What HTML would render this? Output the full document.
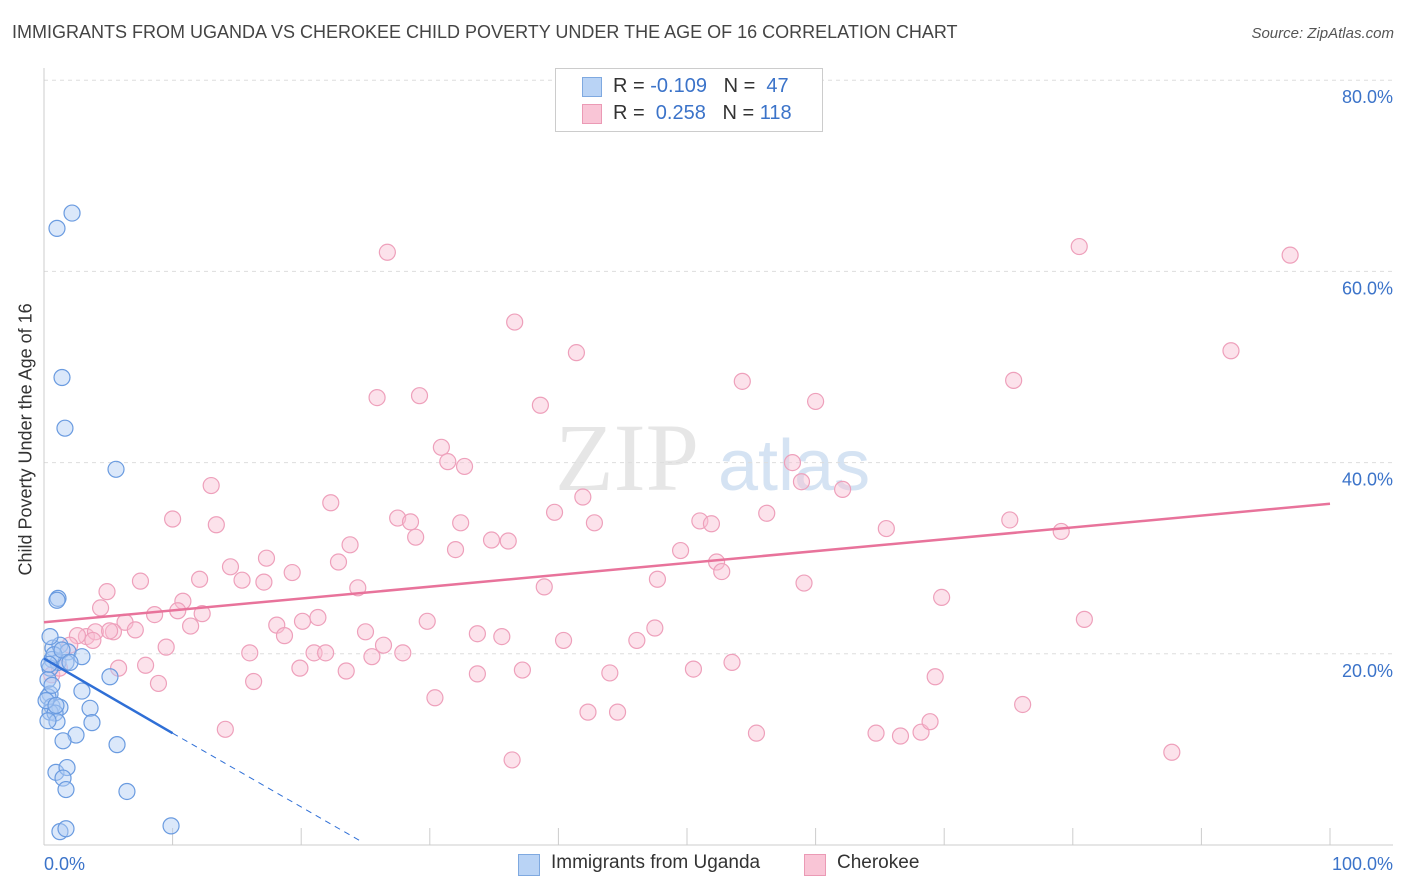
<!DOCTYPE html>
<html><head><meta charset="utf-8">
<style>
body{margin:0;background:#fff;font-family:"Liberation Sans",sans-serif;}
#wrap{position:relative;width:1406px;height:892px;overflow:hidden;}
.t{position:absolute;white-space:nowrap;}
</style></head>
<body>
<div id="wrap">
<div class="t" style="left:12px;top:22px;font-size:18px;color:#444;">IMMIGRANTS FROM UGANDA VS CHEROKEE CHILD POVERTY UNDER THE AGE OF 16 CORRELATION CHART</div>
<div class="t" style="right:12px;top:25px;font-size:15px;color:#555;font-style:italic;">Source: ZipAtlas.com</div>
<div class="t" style="left:-94px;top:445px;font-size:18px;color:#333;transform:rotate(-90deg);width:240px;text-align:center;">Child Poverty Under the Age of 16</div>
<svg id="svg" width="1406" height="892" style="position:absolute;left:0;top:0;"></svg>
<div style="position:absolute;left:555px;top:68px;width:266px;height:62px;border:1px solid #ccc;background:#fff;font-size:20px;">
 <div style="position:absolute;left:26px;top:8px;width:18px;height:18px;background:#b9d3f5;border:1px solid #7fa9e0;"></div>
 <div class="t" style="left:57px;top:6px;color:#333;">R = <span style="color:#3b73c9">-0.109</span>&nbsp;&nbsp;&nbsp;N = <span style="color:#3b73c9">&nbsp;47</span></div>
 <div style="position:absolute;left:26px;top:35px;width:18px;height:18px;background:#f9c5d6;border:1px solid #eb9ab5;"></div>
 <div class="t" style="left:57px;top:33px;color:#333;">R = <span style="color:#3b73c9">&nbsp;0.258</span>&nbsp;&nbsp;&nbsp;N = <span style="color:#3b73c9">118</span></div>
</div>
<div style="position:absolute;left:518px;top:852px;font-size:19px;color:#333;">
 <div style="position:absolute;left:0;top:2px;width:20px;height:20px;background:#b9d3f5;border:1px solid #7fa9e0;"></div>
 <div class="t" style="left:33px;top:0;">Immigrants from Uganda</div>
 <div style="position:absolute;left:286px;top:2px;width:20px;height:20px;background:#f9c5d6;border:1px solid #eb9ab5;"></div>
 <div class="t" style="left:319px;top:0;">Cherokee</div>
</div>
</div>
<script>
const yTicks=[20,40,60,80];
const yTickLabels=["20.0%","40.0%","60.0%","80.0%"];
const xTickVals=[0,10,20,30,40,50,60,70,80,90,100];
const blueX=[2.18,1.01,1.40,1.63,5.60,1.09,1.01,0.70,1.24,1.87,2.95,0.62,1.09,1.71,0.47,0.31,0.47,0.31,0.62,1.24,0.47,0.86,2.95,5.13,3.58,3.73,1.01,2.49,1.48,5.68,0.93,1.79,1.48,1.71,6.45,1.24,1.71,9.88,0.47,0.16,0.31,0.78,0.62,1.40,2.02,0.39,0.93];
const blueY=[66.1,64.5,48.9,43.6,39.3,25.8,25.6,20.6,20.9,20.2,19.7,19.4,19.1,19.1,18.5,17.3,15.8,15.5,14.5,14.4,13.9,13.8,16.1,17.6,14.3,12.8,12.9,11.5,10.9,10.5,7.6,8.1,7.0,5.8,5.6,1.4,1.7,2.0,21.8,15.1,13.0,19.9,16.7,20.4,19.1,18.9,14.6];
const pinkX=[26.7,80.5,96.9,36.6,41.4,92.3,54.3,75.4,25.9,29.2,38.6,60.0,30.9,31.4,32.7,58.2,58.9,62.1,13.0,41.9,22.3,10.0,13.4,27.5,28.5,32.4,39.7,42.8,51.0,51.9,56.2,75.1,65.5,79.1,23.8,28.9,32.0,34.8,36.1,49.5,52.3,17.3,22.9,14.5,19.3,52.7,7.5,12.1,15.4,17.1,24.4,38.9,47.7,59.1,4.9,10.8,69.8,4.4,8.6,10.4,12.3,6.3,21.3,20.1,29.8,80.9,3.3,2.6,4.0,5.4,7.1,11.4,18.1,18.7,25.0,33.7,35.6,40.4,46.1,47.5,9.5,16.0,21.0,21.9,27.9,26.4,25.5,7.9,19.9,5.8,23.5,37.2,33.7,44.0,50.5,53.5,8.9,16.3,69.3,30.4,76.1,42.3,44.6,14.1,55.4,64.7,66.6,68.2,68.9,36.4,87.7,0.6,1.2,2.0,3.8,5.1];
const pinkY=[62.0,62.6,61.7,54.7,51.5,51.7,48.5,48.6,46.8,47.0,46.0,46.4,41.6,40.1,39.6,40.0,38.0,37.2,37.6,36.4,35.8,34.1,33.5,34.2,33.8,33.7,34.8,33.7,33.9,33.6,34.7,34.0,33.1,32.8,31.4,32.2,30.9,31.9,31.8,30.8,29.6,30.0,29.6,29.1,28.5,28.6,27.6,27.8,27.7,27.5,26.9,27.0,27.8,27.4,26.5,25.5,25.9,24.8,24.1,24.5,24.2,23.3,23.8,23.4,23.4,23.6,21.8,21.9,22.3,22.3,22.5,22.9,23.0,21.9,22.3,22.1,21.8,21.4,21.4,22.7,20.7,20.1,20.1,20.1,20.1,20.9,19.7,18.8,18.5,18.5,18.2,18.3,17.9,18.0,18.4,19.1,16.9,17.1,17.6,15.4,14.7,13.9,13.9,12.1,11.7,11.7,11.4,11.8,12.9,8.9,9.7,17.8,18.5,20.9,21.4,22.4];
const blueTrendX=[0,10,24.5];
const blueTrendY=[19.5,11.7,0.5];
const pinkTrendX=[0,100];
const pinkTrendY=[23.3,35.7];

const NS="http://www.w3.org/2000/svg";
const svg=document.getElementById('svg');
const sx=v=>44+v*12.86;
const sy=v=>845-v*9.56;
function mk(tag,attrs){const e=document.createElementNS(NS,tag);for(const k in attrs)e.setAttribute(k,attrs[k]);svg.appendChild(e);return e;}
// watermark
let w=mk('text',{x:555,y:490,'font-size':96,fill:'#e6e6e6','font-family':'Liberation Serif, serif'});w.textContent='ZIP';


let w2=mk('text',{x:718,y:490,'font-size':72,fill:'#d5e3f3','font-family':'Liberation Sans, sans-serif'});w2.textContent='atlas';


yTicks.forEach((t,i)=>{
 const g=mk('line',{x1:44,x2:1393,y1:sy(t),y2:sy(t),stroke:'#ddd','stroke-dasharray':'4,4'});
 
 
 const l=mk('text',{x:1393,y:sy(t)+23,'text-anchor':'end','font-size':18,fill:'#3b73c9'});
 l.textContent=yTickLabels[i];
 
 
});
let ax=mk('line',{x1:44,x2:44,y1:68,y2:845,stroke:'#ccc'});


let bx=mk('line',{x1:44,x2:1393,y1:845,y2:845,stroke:'#ccc'});


xTickVals.forEach(t=>{
 const k=mk('line',{x1:sx(t),x2:sx(t),y1:828,y2:845,stroke:'#ccc'});
 
 
});
let xl0=mk('text',{x:44,y:870,'font-size':18,fill:'#3b73c9'});xl0.textContent='0.0%';


let xl1=mk('text',{x:1393,y:870,'font-size':18,fill:'#3b73c9','text-anchor':'end'});xl1.textContent='100.0%';


pinkX.forEach((v,i)=>{
 const c=mk('circle',{cx:sx(v),cy:sy(pinkY[i]),r:8,fill:'rgba(249,190,210,0.45)',stroke:'#eea0bb','stroke-width':1.2});
 
 
});
blueX.forEach((v,i)=>{
 const c=mk('circle',{cx:sx(v),cy:sy(blueY[i]),r:8,fill:'rgba(175,205,245,0.45)',stroke:'#6a9be0','stroke-width':1.2});
 
 
});
let pt=mk('line',{x1:sx(pinkTrendX[0]),y1:sy(pinkTrendY[0]),x2:sx(pinkTrendX[1]),y2:sy(pinkTrendY[1]),stroke:'#e8739b','stroke-width':2.5});


let bt=mk('line',{x1:sx(blueTrendX[0]),y1:sy(blueTrendY[0]),x2:sx(blueTrendX[1]),y2:sy(blueTrendY[1]),stroke:'#2f6fd6','stroke-width':2.5});


let bd=mk('line',{x1:sx(blueTrendX[1]),y1:sy(blueTrendY[1]),x2:sx(blueTrendX[2]),y2:sy(blueTrendY[2]),stroke:'#2f6fd6','stroke-width':1,'stroke-dasharray':'6,5'});


</script>
</body></html>
